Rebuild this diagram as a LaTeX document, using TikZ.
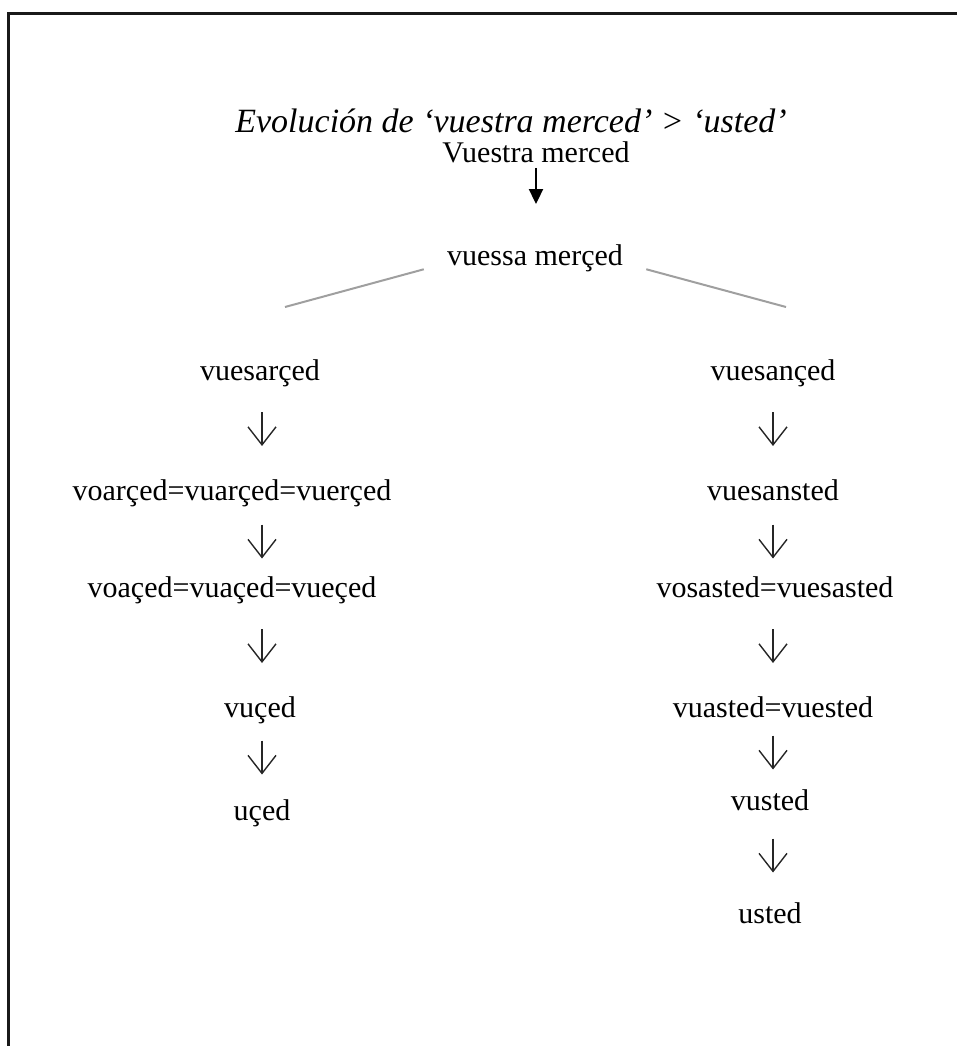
\documentclass[tikz,border=0pt]{standalone}
\usepackage{fontspec}
\setmainfont{Liberation Serif}
\usetikzlibrary{arrows.meta, calc}
\tikzset{
  wd/.style={font=\fontsize{30}{36}\selectfont,
    inner sep=0pt, text height=0.7em, text depth=0.25em},
  ttl/.style={wd, font=\fontsize{34}{40}\selectfont\itshape},
  ba/.style={-{Triangle[length=15pt,width=14pt]},
    line width=2pt, shorten <=3pt, shorten >=54pt},
  sa/.style={-{Straight Barb[length=18pt,width=28pt]},
    line width=1.4pt, color=black!85},
  br/.style={line width=2pt, color=gray!75, shorten <=24pt},
  frm/.style={line width=3pt, color=black!90}
}

\begin{document}
\begin{tikzpicture}[x=1pt, y=-1pt]
\useasboundingbox (0,0) rectangle (957,1046);

% frame
\draw[frm] (8,1080) -- (8,14) -- (1000,14);

% title and root
\node[ttl] (title) at (511,130) {Evolución de ‘vuestra merced’ > ‘usted’};
\node[wd]  (vm)    at (536,160) {Vuestra merced};
\node[wd]  (vsm)   at (535,263) {vuessa merçed};

% left branch
\node[wd] (l1) at (260,378) {vuesarçed};
\node[wd] (l2) at (232,498) {voarçed=vuarçed=vuerçed};
\node[wd] (l3) at (232,595) {voaçed=vuaçed=vueçed};
\node[wd] (l4) at (260,715) {vuçed};
\node[wd] (l5) at (262,818) {uçed};

% right branch
\node[wd] (r1) at (773,378) {vuesançed};
\node[wd] (r2) at (773,498) {vuesansted};
\node[wd] (r3) at (775,595) {vosasted=vuesasted};
\node[wd] (r4) at (773,715) {vuasted=vuested};
\node[wd] (r5) at (770,808) {vusted};
\node[wd] (r6) at (770,921) {usted};

\coordinate (colL) at (262,0);
\coordinate (colR) at (773,0);
\coordinate (brL)  at (285,307);
\coordinate (brR)  at (786,307);

% arrows
\draw[ba] (vm.south) -- (vm.south |- vsm.north);
\draw[br] (vsm.west) -- (brL);
\draw[br] (vsm.east) -- (brR);

\draw[sa] ($(colL |- l1.south)!.5!(colL |- l2.north)$) ++(0,-26) -- ++(0,34);
\draw[sa] ($(colL |- l2.south)!.5!(colL |- l3.north)$) ++(0,-22) -- ++(0,34);
\draw[sa] ($(colL |- l3.south)!.5!(colL |- l4.north)$) ++(0,-26) -- ++(0,34);
\draw[sa] ($(colL |- l4.south)!.5!(colL |- l5.north)$) ++(0,-26) -- ++(0,34);

\draw[sa] ($(colR |- r1.south)!.5!(colR |- r2.north)$) ++(0,-26) -- ++(0,34);
\draw[sa] ($(colR |- r2.south)!.5!(colR |- r3.north)$) ++(0,-22) -- ++(0,34);
\draw[sa] ($(colR |- r3.south)!.5!(colR |- r4.north)$) ++(0,-26) -- ++(0,34);
\draw[sa] ($(colR |- r4.south)!.5!(colR |- r5.north)$) ++(0,-26) -- ++(0,34);
\draw[sa] ($(colR |- r5.south)!.5!(colR |- r6.north)$) ++(0,-26) -- ++(0,34);

\end{tikzpicture}
\end{document}
